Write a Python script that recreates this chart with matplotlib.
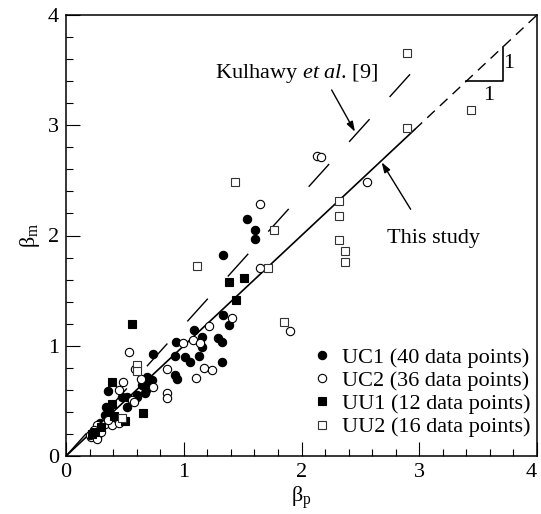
import matplotlib
matplotlib.use("Agg")
import matplotlib.pyplot as plt
import matplotlib.transforms as mtransforms
import numpy as np

plt.rcParams['font.family'] = ['Liberation Serif', 'DejaVu Serif']
plt.rcParams['mathtext.fontset'] = 'custom'
plt.rcParams['mathtext.rm'] = 'Liberation Serif'
plt.rcParams['mathtext.it'] = 'Liberation Serif:italic'
plt.rcParams['lines.scale_dashes'] = False

# ---- data ----
uc1_x = [1.534, 1.605, 1.605, 1.331, 1.336, 1.387, 1.090, 1.152, 1.294, 1.322,
         1.152, 1.011, 1.053, 1.132, 1.322, 0.934, 0.742, 0.926, 0.926, 0.940,
         0.685, 0.690, 0.728, 0.643, 0.671, 0.679, 0.354, 0.473, 0.515, 0.558,
         0.606, 0.515, 0.340, 0.368, 0.331, 0.232, 0.260, 0.600, 0.671, 0.290]
uc1_y = [2.147, 2.047, 1.965, 1.826, 1.279, 1.188, 1.143, 1.082, 1.067, 1.037,
         0.991, 0.901, 0.855, 0.907, 0.855, 1.037, 0.922, 0.907, 0.735, 0.696,
         0.719, 0.696, 0.689, 0.644, 0.644, 0.599, 0.592, 0.538, 0.538, 0.508,
         0.553, 0.447, 0.447, 0.417, 0.372, 0.220, 0.175, 0.538, 0.569, 0.300]

uc2_x = [2.129, 2.163, 2.554, 1.648, 1.648, 1.413, 1.217, 1.902, 0.991, 1.076,
         1.138, 1.172, 1.243, 1.104, 0.538, 0.586, 0.855, 0.742, 0.481, 0.855,
         0.855, 0.453, 0.558, 0.260, 0.331, 0.388, 0.210, 0.266, 0.300, 0.360,
         0.420, 0.200, 0.450, 0.240, 0.580, 0.640]
uc2_y = [2.721, 2.709, 2.488, 2.283, 1.708, 1.249, 1.179, 1.134, 1.028, 1.052,
         1.022, 0.795, 0.780, 0.705, 0.946, 0.786, 0.786, 0.623, 0.674, 0.569,
         0.523, 0.599, 0.508, 0.281, 0.290, 0.281, 0.175, 0.151, 0.220, 0.330,
         0.350, 0.190, 0.300, 0.240, 0.490, 0.700]

uu1_x = [0.558, 0.393, 0.388, 0.501, 0.651, 0.410, 0.249, 1.444, 1.384, 1.512,
         0.220, 0.300]
uu1_y = [1.194, 0.674, 0.469, 0.317, 0.387, 0.360, 0.220, 1.415, 1.581, 1.617,
         0.200, 0.260]

uu2_x = [2.893, 2.893, 3.440, 1.435, 1.110, 1.766, 1.713, 1.854, 2.321, 2.321,
         2.321, 2.372, 2.372, 0.600, 0.600, 0.473]
uu2_y = [3.653, 2.978, 3.138, 2.482, 1.726, 2.050, 1.708, 1.218, 2.316, 2.180,
         1.959, 1.862, 1.757, 0.825, 0.771, 0.342]

labels = ['UC1 (40 data points)', 'UC2 (36 data points)',
          'UU1 (12 data points)', 'UU2 (16 data points)']

# lines
study_solid_x = [0.0, 2.96]
study_dash_x = [2.96, 4.0]
kulhawy_slope = 1.185
kulhawy_x = [0.0, 2.93]

FS = 16

fig = plt.figure(figsize=(5.41, 5.14), dpi=100)
ax = fig.add_axes([66/541, 1-456/514, (537-66)/541, (456-15)/514])

ax.plot(study_solid_x, study_solid_x, color='black', lw=1.2, zorder=3)
ax.plot(study_dash_x, study_dash_x, color='black', lw=1.0, dashes=(7.5, 5), zorder=3)
kx = np.array(kulhawy_x)
ax.plot(kx, kulhawy_slope * kx, color='black', lw=1.0, dashes=(22, 21.5), zorder=3)

ms = 6
ax.plot(uc1_x, uc1_y, 'o', ms=ms, mfc='black', mec='black', mew=0.8, label=labels[0], zorder=4)
ax.plot(uc2_x, uc2_y, 'o', ms=ms, mfc='white', mec='black', mew=0.8, label=labels[1], zorder=4)
ax.plot(uu1_x, uu1_y, 's', ms=ms, mfc='black', mec='black', mew=0.8, label=labels[2], zorder=4)
ax.plot(uu2_x, uu2_y, 's', ms=5.5, mfc='white', mec='#333333', mew=0.8, label=labels[3], zorder=4)

# slope triangle
ax.plot([3.40, 3.71, 3.71], [3.40, 3.40, 3.71], color='black', lw=1.2, zorder=3)
ax.text(3.76, 3.56, '1', fontsize=FS, ha='center', va='center')
ax.text(3.59, 3.27, '1', fontsize=FS, ha='center', va='center')

# annotations
ax.text(1.96, 3.47, 'Kulhawy $\\mathit{et\\ al}$. [9]', fontsize=FS, ha='center', va='center')
ax.annotate('', xy=(2.454, 2.941), xytext=(2.256, 3.32),
            arrowprops=dict(arrowstyle='-|>,head_length=0.6,head_width=0.2', color='black', lw=1.0,
                            shrinkA=0, shrinkB=0))
ax.text(3.117, 1.977, 'This study', fontsize=FS, ha='center', va='center')
ax.annotate('', xy=(2.681, 2.664), xytext=(2.927, 2.238),
            arrowprops=dict(arrowstyle='-|>,head_length=0.6,head_width=0.2', color='black', lw=1.0,
                            shrinkA=0, shrinkB=0))

ax.set_xlim(0, 4)
ax.set_ylim(0, 4)
ax.set_xticks([0, 1, 2, 3, 4])
ax.set_yticks([0, 1, 2, 3, 4])
ax.set_xticks(np.arange(0, 4.01, 0.2), minor=True)
ax.set_yticks(np.arange(0, 4.01, 0.2), minor=True)
ax.tick_params(which='both', direction='in', top=False, right=False, labelsize=FS, width=0.8)
ax.tick_params(which='major', length=10, pad=5)
ax.tick_params(which='minor', length=5)
for s in ax.spines.values():
    s.set_linewidth(1.1)

# keep the last x tick label inside the figure
last = ax.get_xticklabels()[-1]
last.set_transform(last.get_transform() + mtransforms.ScaledTranslation(-4/72, 0, fig.dpi_scale_trans))

ax.set_xlabel('β$_{\\mathrm{p}}$', fontsize=FS, labelpad=2)
ax.set_ylabel('β$_{\\mathrm{m}}$', fontsize=FS, labelpad=4)

ax.legend(loc='lower right', bbox_to_anchor=(1.015, 0.012), frameon=False, fontsize=FS,
          handlelength=0.8, handletextpad=0.5, labelspacing=0.12, borderaxespad=0.2)

fig.savefig('out.png', dpi=100)
